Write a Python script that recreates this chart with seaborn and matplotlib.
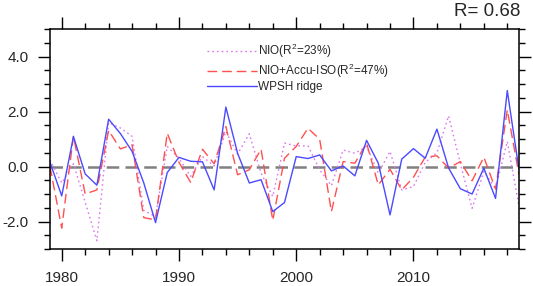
import numpy as np
import pandas as pd
import matplotlib.pyplot as plt
import seaborn as sns
from matplotlib.ticker import MultipleLocator

years = list(range(1979, 2020))

wpsh = [0.15, -1.07, 1.09, -0.27, -0.68, 1.72, 1.2, 0.55, -0.6, -2.04,
        -0.22, 0.33, 0.19, 0.17, -0.85, 2.16, 0.48, -0.6, -0.48, -1.64,
        -1.31, 0.36, 0.29, 0.42, -0.16, 0.02, -0.34, 0.95, 0.12, -1.76,
        0.27, 0.65, 0.3, 1.36, -0.06, -0.81, -1.0, -0.06, -1.16, 2.76,
        -0.12]

nio_iso = [0.0, -2.24, 1.1, -1.0, -0.85, 1.31, 0.64, 0.79, -1.86, -1.94,
           1.21, 0.15, -0.58, 0.63, 0.1, 1.45, -0.3, -0.12, 0.63, -1.96,
           0.3, 0.73, 1.39, 0.99, -1.64, 0.18, 0.12, 0.85, -0.67, -0.1,
           -0.85, -0.39, 0.34, 0.39, -0.06, 0.18, -0.52, 0.34, -0.82, 2.06,
           -0.3]

nio = [0.24, -0.6, 0.1, -1.3, -2.7, 1.6, 1.4, 1.1, -1.6, -1.82,
       0.73, 0.3, -0.36, 0.36, 0.02, 1.27, 0.45, 1.19, -0.24, -1.09,
       0.85, 0.75, 0.75, -0.12, -0.7, 0.6, 0.48, 0.73, -0.24, 0.55,
       -0.85, -0.73, 0.15, 0.5, 1.84, 0.1, -1.52, -0.18, -0.8, 0.91,
       -1.45]

labels = ["NIO(R$^2$=23%)", "NIO+Accu-ISO(R$^2$=47%)", "WPSH ridge"]
title = "R= 0.68"

sns.set_style("ticks")
plt.rcParams['font.family'] = ['Liberation Sans', 'DejaVu Sans']
plt.rcParams['mathtext.fontset'] = 'custom'
plt.rcParams['mathtext.rm'] = 'Liberation Sans'

df = pd.DataFrame({"year": years * 3,
                   "value": nio + nio_iso + wpsh,
                   "series": [labels[0]] * 41 + [labels[1]] * 41 + [labels[2]] * 41})

fig = plt.figure(figsize=(5.33, 2.86), dpi=100)
ax = fig.add_axes([50 / 533, 1 - 249 / 286, 469 / 533, 220 / 286])

ax.axhline(0, color="#808080", lw=1.8, ls=(0, (5, 2.5)), zorder=1)

palette = {labels[0]: "#dd77ee", labels[1]: "#ff5050", labels[2]: "#4a4aff"}
sns.lineplot(data=df, x="year", y="value", hue="series", style="series",
             palette=palette, dashes={labels[0]: (1.2, 2.2), labels[1]: (7, 3.5), labels[2]: ""},
             linewidth=1.0, ax=ax, zorder=2)

ax.set_xlim(1979, 2019)
ax.set_ylim(-3, 5)
ax.set_xticks([1980, 1990, 2000, 2010])
ax.xaxis.set_minor_locator(MultipleLocator(2))
ax.set_yticks([-2, 0, 2, 4])
ax.set_yticklabels(["-2.0", "0.0", "2.0", "4.0"])
ax.yaxis.set_minor_locator(MultipleLocator(0.5))
ax.tick_params(which="both", direction="out", top=True, right=True,
               labelsize=11, width=1.0, color="black", pad=7)
ax.tick_params(which="major", length=8.5)
ax.tick_params(which="minor", length=4.3)
ax.set_xlabel("")
ax.set_ylabel("")
for s in ax.spines.values():
    s.set_linewidth(1.1)
    s.set_color("black")

ax.legend(loc="upper left", bbox_to_anchor=(0.335, 0.94), frameon=False,
          fontsize=8.5, handlelength=4.2, handletextpad=0.15, labelspacing=0.1,
          borderpad=0, borderaxespad=0)

fig.text(520 / 533, 1 - 3 / 286, title, ha="right", va="top", fontsize=13.5)

fig.savefig("out.png", dpi=100)
